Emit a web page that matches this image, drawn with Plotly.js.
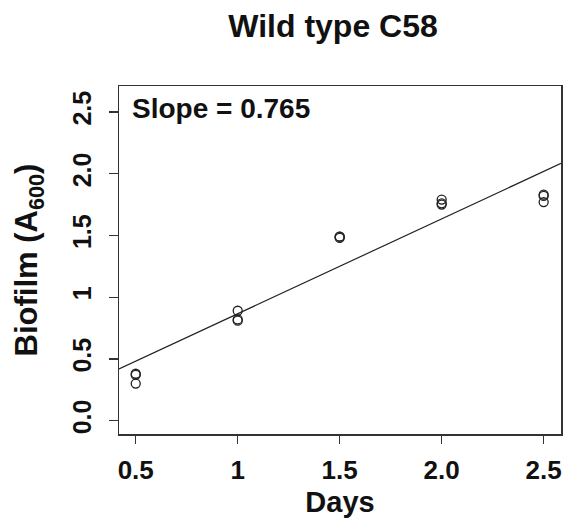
<!DOCTYPE html>
<html>
<head>
<meta charset="utf-8">
<script src="https://cdn.plot.ly/plotly-3.0.1.min.js"></script>
<style>html,body{margin:0;padding:0;background:#fff;}#chart{width:572px;height:527px;}</style>
</head>
<body>
<div id="chart"></div>
<script>
// Data
const days = [0.5, 0.5, 0.5, 1, 1, 1, 1.5, 1.5, 1.5, 2.0, 2.0, 2.0, 2.5, 2.5, 2.5];
const biofilm = [0.37, 0.38, 0.30, 0.89, 0.82, 0.81, 1.49, 1.48, 1.49, 1.79, 1.76, 1.75, 1.83, 1.82, 1.77];
const xTickVals = [0.5, 1, 1.5, 2.0, 2.5];
const xTickText = ['0.5', '1', '1.5', '2.0', '2.5'];
const yTickVals = [0.0, 0.5, 1, 1.5, 2.0, 2.5];
const yTickText = ['0.0', '0.5', '1', '1.5', '2.0', '2.5'];
const slopeLabel = 'Slope = 0.765';
const chartTitle = 'Wild type C58';
const xLabel = 'Days';
const yLabel = 'Biofilm (A<sub>600</sub>)';

const xRange = [0.418, 2.585];
const yRange = [-0.108, 2.71];

// least-squares fit of the data
const n = days.length;
const mx = days.reduce((a, b) => a + b, 0) / n;
const my = biofilm.reduce((a, b) => a + b, 0) / n;
let sxy = 0, sxx = 0;
for (let i = 0; i < n; i++) { sxy += (days[i] - mx) * (biofilm[i] - my); sxx += (days[i] - mx) ** 2; }
const slope = sxy / sxx;
const intercept = my - slope * mx;
const fitX = [xRange[0], xRange[1]];
const fitY = fitX.map(x => intercept + slope * x);

const font = 'Liberation Sans, Arial, sans-serif';
const bold = s => '<b>' + s + '</b>';

const traces = [
  {
    x: fitX, y: fitY, type: 'scatter', mode: 'lines',
    line: {color: '#222', width: 1.2}, hoverinfo: 'skip', showlegend: false
  },
  {
    x: days, y: biofilm, type: 'scatter', mode: 'markers',
    marker: {symbol: 'circle-open', size: 9, color: '#222', line: {width: 1.3, color: '#222'}},
    showlegend: false
  }
];

const layout = {
  width: 572, height: 527,
  margin: {l: 119, r: 11, t: 86, b: 93},
  paper_bgcolor: '#fff', plot_bgcolor: '#fff',
  font: {family: font, color: '#111'},
  title: {
    text: bold(chartTitle),
    font: {family: font, size: 32, color: '#111'},
    x: 333 / 572, xanchor: 'center', xref: 'container',
    y: 1 - 26 / 527, yanchor: 'middle', yref: 'container'
  },
  xaxis: {
    range: xRange, showgrid: false, zeroline: false,
    showline: true, mirror: true, linecolor: '#333', linewidth: 1.5,
    ticks: 'outside', ticklen: 8, tickwidth: 1.3, tickcolor: '#333',
    tickvals: xTickVals, ticktext: xTickText.map(bold),
    tickfont: {family: font, size: 26, color: '#111'},
    ticklabelstandoff: 4,
    title: {text: bold(xLabel), font: {family: font, size: 29, color: '#111'}, standoff: 8}
  },
  yaxis: {
    range: yRange, showgrid: false, zeroline: false,
    showline: true, mirror: true, linecolor: '#333', linewidth: 1.5,
    ticks: 'outside', ticklen: 9, tickwidth: 1.3, tickcolor: '#333',
    tickvals: yTickVals, ticktext: yTickText.map(bold), tickangle: -90,
    tickfont: {family: font, size: 25, color: '#111'},
    ticklabelstandoff: 8,
    title: {text: bold(yLabel), font: {family: font, size: 31, color: '#111'}, standoff: 20}
  },
  annotations: [{
    text: bold(slopeLabel), xref: 'paper', yref: 'paper',
    x: 0.025, y: 0.936, xanchor: 'left', yanchor: 'middle', showarrow: false,
    font: {family: font, size: 28, color: '#111'}
  }]
};

Plotly.newPlot('chart', traces, layout, {displayModeBar: false, staticPlot: true});
</script>
</body>
</html>
